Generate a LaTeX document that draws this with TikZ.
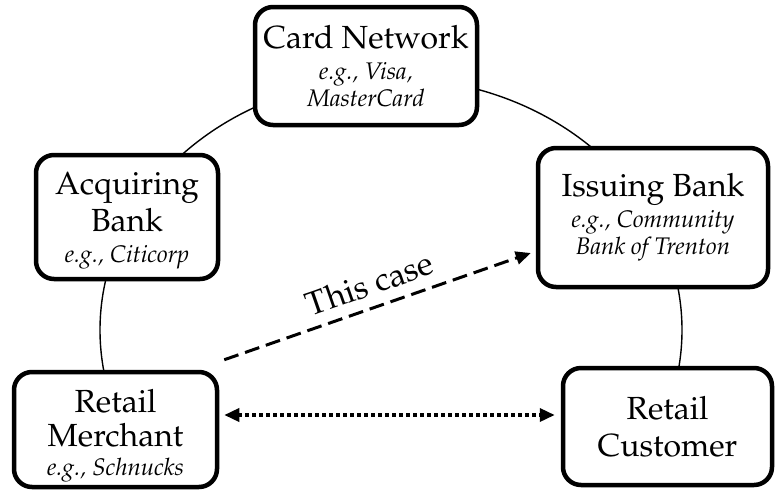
\documentclass[tikz,border=0pt]{standalone}
\usepackage[T1]{fontenc}
\usepackage{mathpazo}
\usetikzlibrary{arrows.meta}
\newcommand{\egtext}[1]{{\fontsize{24}{27}\selectfont\itshape #1}}
\tikzset{
  box/.style={draw, line width=4.5pt, rounded corners=18pt, fill=white, align=center,
    font=\fontsize{32}{37}\selectfont, inner sep=0pt},
  ring/.style={line width=1.4pt},
  tip/.style={-{Triangle[length=15pt,width=13pt]}},
}
\begin{document}
\begin{tikzpicture}[x=1pt,y=-1pt]
\useasboundingbox (0,0) rectangle (776,491);
\begin{scope}
  \clip (0,0) rectangle (776,470);
  \draw[ring] (391,330) ellipse [x radius=291pt, y radius=252pt];
\end{scope}
\node[box, minimum width=222pt, minimum height=118pt] (cn) at (366,66)
  {Card Network\\[-6pt] \egtext{e.g., Visa,}\\[-10pt] \egtext{MasterCard}};
\node[box, minimum width=182pt, minimum height=124pt] (ab) at (127,217)
  {\rule{0pt}{29pt}Acquiring\\ Bank\\[-6pt] \egtext{e.g., Citicorp}};
\node[box, minimum width=230pt, minimum height=139pt] (ib) at (653,217.5)
  {Issuing Bank\\[-6pt] \egtext{e.g., Community}\\[-10pt] \egtext{Bank of Trenton}};
\node[box, minimum width=203pt, minimum height=115pt] (rm) at (115.5,429.5)
  {\rule{0pt}{35pt}Retail\\[-3pt] Merchant\\[-8pt] \egtext{e.g., Schnucks}};
\node[box, minimum width=209pt, minimum height=117pt] (rc) at (667.5,426.5)
  {Retail\\ Customer};
\coordinate (dashA) at ([shift={(5,-10)}]rm.north east);
\coordinate (dashB) at ([shift={(-5,35.5)}]ib.west);
\draw[tip, line width=3pt, dash pattern=on 15pt off 7pt] (dashA) -- (dashB)
  node[pos=0.5, sloped, above=7pt, font=\fontsize{33}{36}\selectfont] (lbl) {This case};
\coordinate (dotA) at ([shift={(5,-14.5)}]rm.east);
\coordinate (dotB) at ([shift={(-6,-11.5)}]rc.west);
\draw[{Triangle[length=15pt,width=13pt]}-{Triangle[length=15pt,width=13pt]}, line width=3.5pt, dash pattern=on 3.5pt off 3.5pt] (dotA) -- (dotB);
\end{tikzpicture}
\end{document}
